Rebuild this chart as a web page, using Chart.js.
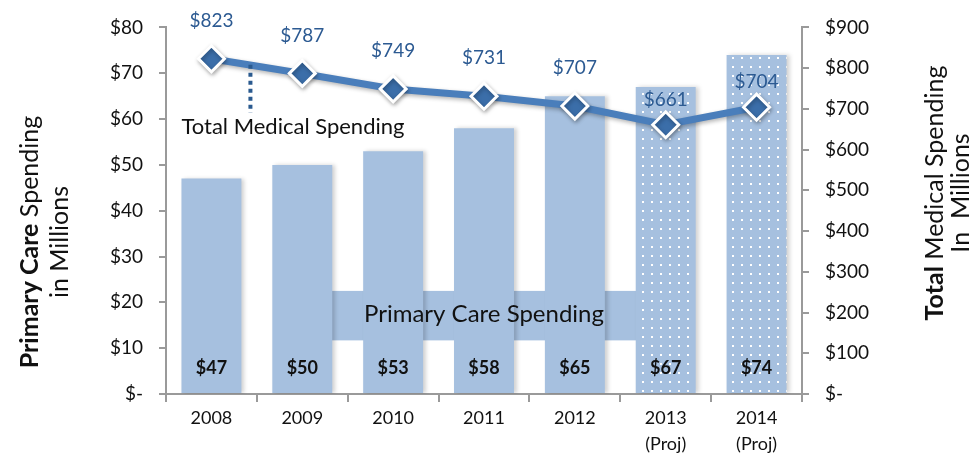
<!DOCTYPE html>
<html>
<head>
<meta charset="utf-8">
<script src="https://cdn.jsdelivr.net/npm/chart.js@4"></script>
<style>
  html, body { margin: 0; padding: 0; background: #fff; }
</style>
</head>
<body>
<canvas id="spendChart" width="974" height="460"></canvas>
<script>
// data
const years = [["2008"], ["2009"], ["2010"], ["2011"], ["2012"], ["2013", "(Proj)"], ["2014", "(Proj)"]];
const primaryCare = [47, 50, 53, 58, 65, 67, 74];
const totalMedical = [823, 787, 749, 731, 707, 661, 704];
const projected = [false, false, false, false, false, true, true];

const FONT = "Lato, 'Open Sans', sans-serif";
const barBlue = "#a6c0df";
const lineBlue = "#4a7ebb";
const labelBlue = "#2c5a92";

// white dotted pattern for projected bars
function dotPattern() {
  const c = document.createElement("canvas");
  c.width = 9; c.height = 9;
  const g = c.getContext("2d");
  g.fillStyle = barBlue;
  g.fillRect(0, 0, 9, 9);
  g.fillStyle = "#ffffff";
  g.fillRect(3, 3, 2, 2);
  return g.createPattern(c, "repeat");
}

const ctx = document.getElementById("spendChart").getContext("2d");
const pattern = dotPattern();

function drawMixed(g, parts, x, y, size) {
  // parts: [[text, bold], ...] centered at x
  let total = 0;
  parts.forEach(p => { g.font = (p[1] ? "bold " : "") + size + "px " + FONT; total += g.measureText(p[0]).width; });
  let cx = x - total / 2;
  parts.forEach(p => {
    g.font = (p[1] ? "bold " : "") + size + "px " + FONT;
    g.textAlign = "left";
    g.fillText(p[0], cx, y);
    cx += g.measureText(p[0]).width;
  });
}

const extras = {
  id: "extras",
  beforeDatasetsDraw(chart) {
    const g = chart.ctx;
    const xs = chart.scales.x, yl = chart.scales.y;
    // "Primary Care Spending" label band
    const x1 = (xs.getPixelForValue(1) + xs.getPixelForValue(2)) / 2 - 16;
    const x2 = (xs.getPixelForValue(4) + xs.getPixelForValue(5)) / 2 + 16;
    const yTop = yl.getPixelForValue(22.5), yBot = yl.getPixelForValue(11.7);
    g.save();
    g.fillStyle = barBlue;
    g.fillRect(x1, yTop, x2 - x1, yBot - yTop);
    g.restore();
  },
  beforeDatasetDraw(chart, args) {
    const g = chart.ctx;
    g.save();
    if (args.index === 1) {
      g.shadowColor = "rgba(0,0,0,0.18)";
      g.shadowBlur = 4;
      g.shadowOffsetX = 3;
    } else {
      g.shadowColor = "rgba(0,0,0,0.3)";
      g.shadowBlur = 4;
      g.shadowOffsetX = 1;
      g.shadowOffsetY = 2;
    }
  },
  afterDatasetDraw(chart) {
    chart.ctx.restore();
  },
  afterDatasetsDraw(chart) {
    const g = chart.ctx;
    const xs = chart.scales.x, yl = chart.scales.y, yr = chart.scales.y1;
    g.save();
    // bar value labels
    g.font = "bold 18px " + FONT;
    g.fillStyle = "#111";
    g.textAlign = "center";
    g.textBaseline = "middle";
    chart.getDatasetMeta(1).data.forEach((bar, i) => {
      g.fillText("$" + primaryCare[i], bar.x, yl.getPixelForValue(0) - 26);
    });
    // line value labels
    g.font = "19px " + FONT;
    g.fillStyle = labelBlue;
    chart.getDatasetMeta(0).data.forEach((pt, i) => {
      g.fillText("$" + totalMedical[i], pt.x, pt.y - (projected[i] ? 25 : 38));
    });
    // band label
    g.font = "24px " + FONT;
    g.fillStyle = "#111";
    g.fillText("Primary Care Spending", xs.getPixelForValue(3), yl.getPixelForValue(17.3));
    // line label with dotted leader
    const lx = xs.getPixelForValue(0);
    g.font = "22px " + FONT;
    g.textAlign = "left";
    g.fillText("Total Medical Spending", lx - 30, yl.getPixelForValue(58.2));
    g.strokeStyle = "#2a5a8f";
    g.lineWidth = 4;
    g.setLineDash([4, 4]);
    g.beginPath();
    g.moveTo(lx + 39, yr.getPixelForValue(808));
    g.lineTo(lx + 39, yr.getPixelForValue(690));
    g.stroke();
    g.setLineDash([]);
    // axis titles
    g.fillStyle = "#111";
    g.textBaseline = "middle";
    g.save();
    g.translate(30, 242);
    g.rotate(-Math.PI / 2);
    drawMixed(g, [["Primary Care", true], [" Spending", false]], 0, 0, 25);
    g.font = "25px " + FONT;
    g.textAlign = "center";
    g.fillText("in Millions", 0, 30);
    g.restore();
    g.save();
    g.translate(935, 193);
    g.rotate(-Math.PI / 2);
    drawMixed(g, [["Total", true], [" Medical Spending", false]], 0, 0, 25);
    g.font = "25px " + FONT;
    g.textAlign = "center";
    g.fillText("In  Millions", 0, 26);
    g.restore();
    g.restore();
  }
};

new Chart(ctx, {
  type: "bar",
  data: {
    labels: years,
    datasets: [
      {
        type: "line",
        label: "Total Medical Spending",
        data: totalMedical,
        yAxisID: "y1",
        order: 0,
        borderColor: lineBlue,
        borderWidth: 7,
        tension: 0,
        pointStyle: "rectRot",
        pointRadius: 13,
        pointBackgroundColor: "#3b6ea9",
        pointBorderColor: "#ffffff",
        pointBorderWidth: 3
      },
      {
        label: "Primary Care Spending",
        data: primaryCare,
        yAxisID: "y",
        order: 1,
        backgroundColor: projected.map(p => p ? pattern : barBlue),
        barPercentage: 0.66,
        categoryPercentage: 1
      }
    ]
  },
  options: {
    responsive: false,
    animation: false,
    layout: { padding: { top: 23, left: 0, right: 0, bottom: 0 } },
    plugins: { legend: { display: false }, tooltip: { enabled: false } },
    scales: {
      x: {
        afterFit(s) { s.height = 66; },
        border: { color: "#9a9a9a", width: 2 },
        grid: { drawOnChartArea: false, color: "#9a9a9a", tickLength: 8, lineWidth: 2 },
        ticks: { color: "#111", font: { family: FONT, size: 18, lineHeight: 1.4 }, padding: 4, maxRotation: 0 }
      },
      y: {
        position: "left",
        min: 0, max: 80,
        afterFit(s) { s.width = 166; },
        border: { color: "#9a9a9a", width: 2 },
        grid: { drawOnChartArea: false, color: "#9a9a9a", tickLength: 7, lineWidth: 2 },
        ticks: {
          stepSize: 10,
          color: "#111",
          font: { family: FONT, size: 19 },
          padding: 16,
          callback: v => v === 0 ? "$-" : "$" + v
        }
      },
      y1: {
        position: "right",
        min: 0, max: 900,
        afterFit(s) { s.width = 172; },
        border: { color: "#9a9a9a", width: 2 },
        grid: { drawOnChartArea: false, color: "#9a9a9a", tickLength: 7, lineWidth: 2 },
        ticks: {
          stepSize: 100,
          color: "#111",
          font: { family: FONT, size: 19 },
          padding: 16,
          callback: v => v === 0 ? "$-" : "$" + v
        }
      }
    }
  },
  plugins: [extras]
});
</script>
</body>
</html>
